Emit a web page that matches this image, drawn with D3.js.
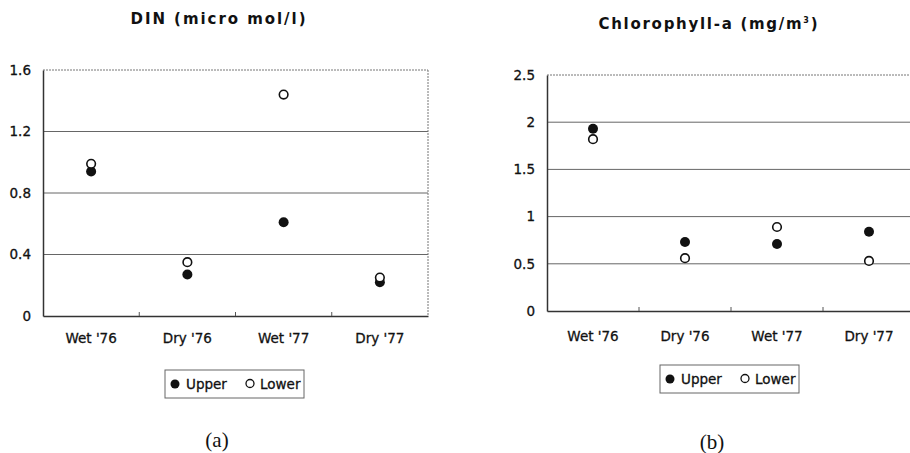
<!DOCTYPE html>
<html>
<head>
<meta charset="utf-8">
<script src="https://cdn.jsdelivr.net/npm/d3@7"></script>
<style>
  body { margin: 0; background: #fff; }
  svg { display: block; }
  text { font-family: "DejaVu Sans", sans-serif; fill: #111; }
  .lbl { stroke: #111; stroke-width: 0.3px; }
</style>
</head>
<body>
<svg id="chart" width="910" height="453"></svg>
<script>
// data
const categories = ["Wet '76", "Dry '76", "Wet '77", "Dry '77"];
const dinUpper = [0.94, 0.27, 0.61, 0.22];
const dinLower = [0.99, 0.35, 1.44, 0.25];
const chlUpper = [1.93, 0.73, 0.71, 0.84];
const chlLower = [1.82, 0.56, 0.89, 0.53];
const dinTicks = [0, 0.4, 0.8, 1.2, 1.6];
const chlTicks = [0, 0.5, 1, 1.5, 2, 2.5];
const seriesNames = ["Upper", "Lower"];

const svg = d3.select("#chart");

function drawPanel(p) {
    const g = svg.append("g");

    var x = d3.scaleBand().domain(categories).range([p.left, p.right]);
    var y = d3.scaleLinear().domain([0, p.max]).range([p.bottom, p.top]);

    // title
    var t = g.append("text")
        .attr("x", p.titleX).attr("y", p.titleY)
        .attr("text-anchor", "middle")
        .attr("textLength", p.titleW)
        .attr("lengthAdjust", "spacing")
        .style("font-size", "15px")
        .style("font-weight", "bold")
        .text(p.title);
    if (p.sup) {
        t.append("tspan").attr("dy", -6).style("font-size", "8px").text(p.sup);
        t.append("tspan").attr("dy", 6).text(")");
    }

    // horizontal gridlines
    g.append("g").selectAll("line")
        .data(p.ticks.filter(d => d > 0 && d < p.max))
        .enter().append("line")
        .attr("x1", p.left).attr("x2", p.right)
        .attr("y1", d => y(d)).attr("y2", d => y(d))
        .attr("stroke", "#666").attr("stroke-width", 1);

    // frame: top & right lighter, left & bottom darker
    g.append("line").attr("x1", p.left).attr("x2", p.right).attr("y1", p.top).attr("y2", p.top)
        .attr("stroke", "#777").attr("stroke-width", 1).attr("stroke-dasharray", "2,1");
    g.append("line").attr("x1", p.right).attr("x2", p.right).attr("y1", p.top).attr("y2", p.bottom)
        .attr("stroke", "#777").attr("stroke-width", 1).attr("stroke-dasharray", "2,1");

    // y axis
    var yAxis = g.append("g")
        .attr("transform", "translate(" + p.left + ",0)")
        .call(d3.axisLeft(y).tickValues(p.ticks).tickSize(0).tickPadding(12).tickFormat(d => d));
    yAxis.select(".domain").attr("stroke", "#333").attr("stroke-width", 1.5);
    yAxis.selectAll("text").attr("class", "lbl").style("font-size", "13.5px")
        .style("font-family", "DejaVu Sans, sans-serif").attr("fill", "#111");

    // x axis
    var xAxis = g.append("g")
        .attr("transform", "translate(0," + p.bottom + ")")
        .call(d3.axisBottom(x).tickSize(0).tickPadding(p.xPad));
    xAxis.select(".domain").attr("stroke", "#333").attr("stroke-width", 1.5);
    xAxis.selectAll("text").attr("class", "lbl").style("font-size", "13.5px")
        .style("font-family", "DejaVu Sans, sans-serif").attr("fill", "#111");

    // small inward ticks between categories
    g.append("g").selectAll("line")
        .data(categories.slice(1))
        .enter().append("line")
        .attr("x1", d => x(d)).attr("x2", d => x(d))
        .attr("y1", p.bottom).attr("y2", p.bottom - 4)
        .attr("stroke", "#555");

    // points
    g.append("g").selectAll("circle")
        .data(p.upper)
        .enter().append("circle")
        .attr("cx", (d, i) => x(categories[i]) + x.bandwidth() / 2)
        .attr("cy", d => y(d))
        .attr("r", 5)
        .attr("fill", "#111");

    g.append("g").selectAll("circle")
        .data(p.lower)
        .enter().append("circle")
        .attr("cx", (d, i) => x(categories[i]) + x.bandwidth() / 2)
        .attr("cy", d => y(d))
        .attr("r", 4.3)
        .attr("fill", "#fff")
        .attr("stroke", "#111")
        .attr("stroke-width", 1.6);

    // legend
    var lg = g.append("g").attr("transform", "translate(" + p.legX + "," + p.legY + ")");
    lg.append("rect")
        .attr("width", 139).attr("height", 28)
        .attr("fill", "none").attr("stroke", "#666").attr("stroke-width", 1);
    lg.append("circle").attr("cx", 10).attr("cy", 14).attr("r", 4.5).attr("fill", "#111");
    lg.append("text").attr("class", "lbl").attr("x", 21).attr("y", 19).style("font-size", "13.5px").text(seriesNames[0]);
    lg.append("circle").attr("cx", 85).attr("cy", 13.5).attr("r", 4).attr("fill", "#fff")
        .attr("stroke", "#111").attr("stroke-width", 1.3);
    lg.append("text").attr("class", "lbl").attr("x", 95).attr("y", 19).style("font-size", "13.5px").text(seriesNames[1]);

    // caption
    g.append("text")
        .attr("x", p.capX).attr("y", p.capY)
        .attr("text-anchor", "middle")
        .style("font-family", "Liberation Serif, serif")
        .style("font-size", "21px")
        .text(p.caption);
}

drawPanel({
    title: "DIN (micro mol/l)", titleX: 218, titleY: 24, titleW: 175,
    left: 43, right: 428, top: 70, bottom: 316, max: 1.6, ticks: dinTicks,
    upper: dinUpper, lower: dinLower, xPad: 17,
    legX: 165, legY: 370, caption: "(a)", capX: 217, capY: 447
});

drawPanel({
    title: "Chlorophyll-a (mg/m", sup: "3", titleX: 708, titleY: 29, titleW: 219,
    left: 547, right: 915, top: 75, bottom: 311, max: 2.5, ticks: chlTicks,
    upper: chlUpper, lower: chlLower, xPad: 20,
    legX: 660, legY: 365, caption: "(b)", capX: 712, capY: 449
});
</script>
</body>
</html>
